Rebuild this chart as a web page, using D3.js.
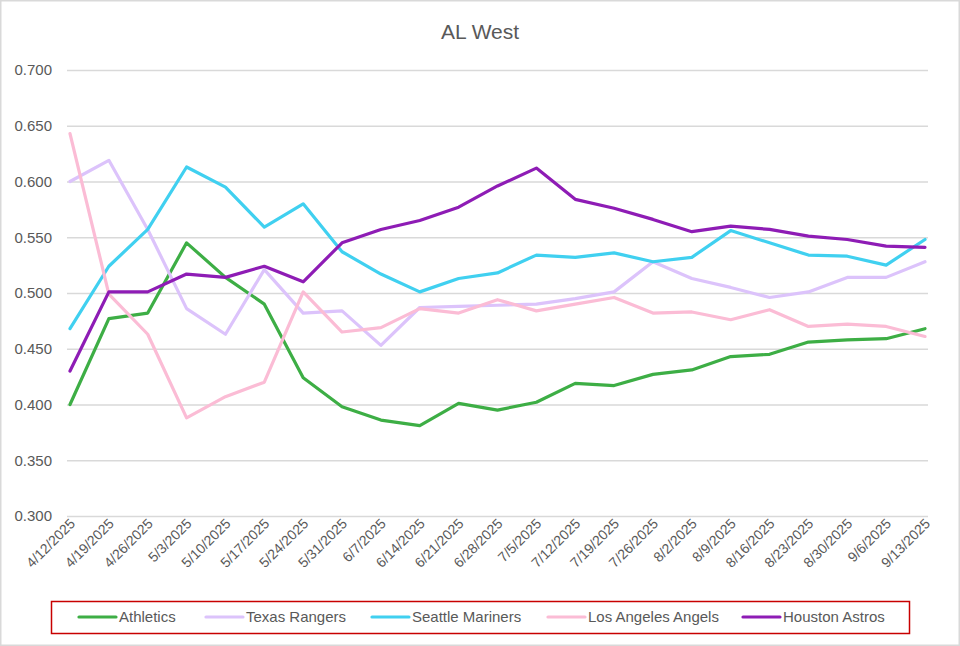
<!DOCTYPE html>
<html>
<head>
<meta charset="utf-8">
<script src="https://cdn.jsdelivr.net/npm/d3@7"></script>
<style>
	body { margin: 0; background: #fff; }
	svg { display: block; }
	.title { font-family: "Liberation Sans Narrow", "Liberation Sans", sans-serif; font-size: 21px; fill: #595959; }
	.tick text { font-family: "Liberation Sans", Arial, sans-serif; fill: #595959; }
	.legend text { font-family: "Liberation Sans Narrow", "Liberation Sans", sans-serif; font-size: 15px; fill: #595959; }
</style>
</head>
<body>
<div id="chart"></div>
<script>
// AL West winning percentage by week

const dates = ["4/12/2025", "4/19/2025", "4/26/2025", "5/3/2025", "5/10/2025", "5/17/2025",
	"5/24/2025", "5/31/2025", "6/7/2025", "6/14/2025", "6/21/2025", "6/28/2025", "7/5/2025",
	"7/12/2025", "7/19/2025", "7/26/2025", "8/2/2025", "8/9/2025", "8/16/2025", "8/23/2025",
	"8/30/2025", "9/6/2025", "9/13/2025"];

const teams = ["Athletics", "Texas Rangers", "Seattle Mariners", "Los Angeles Angels", "Houston Astros"];

const athletics = [0.400, 0.477, 0.482, 0.545, 0.514, 0.490, 0.424, 0.398, 0.386, 0.381, 0.401, 0.395,
	0.402, 0.419, 0.417, 0.427, 0.431, 0.443, 0.445, 0.456, 0.458, 0.459, 0.468];
const rangers = [0.600, 0.619, 0.557, 0.486, 0.463, 0.521, 0.482, 0.484, 0.453, 0.487, 0.488, 0.489,
	0.490, 0.495, 0.501, 0.528, 0.513, 0.505, 0.496, 0.501, 0.514, 0.514, 0.528];
const mariners = [0.468, 0.524, 0.557, 0.613, 0.595, 0.559, 0.580, 0.537, 0.517, 0.501, 0.513, 0.518,
	0.534, 0.532, 0.536, 0.528, 0.532, 0.556, 0.545, 0.534, 0.533, 0.525, 0.548];
const angels = [0.643, 0.499, 0.463, 0.388, 0.407, 0.420, 0.501, 0.465, 0.469, 0.486, 0.482, 0.494,
	0.484, 0.490, 0.496, 0.482, 0.483, 0.476, 0.485, 0.470, 0.472, 0.470, 0.461];
const astros = [0.430, 0.501, 0.501, 0.517, 0.514, 0.524, 0.510, 0.545, 0.557, 0.565, 0.577, 0.596,
	0.612, 0.584, 0.576, 0.566, 0.555, 0.560, 0.557, 0.551, 0.548, 0.542, 0.541];

const yTicks = [0.300, 0.350, 0.400, 0.450, 0.500, 0.550, 0.600, 0.650, 0.700];
const colors = ["#3DAE45", "#DCC3FB", "#40D0F0", "#FBBCD5", "#8E1CB5"];

const width = 960, height = 646;
const margin = { top: 70, right: 35, bottom: 130, left: 70 };

const series = teams.map((name, i) => ({
	name: name,
	color: colors[i],
	values: [athletics, rangers, mariners, angels, astros][i]
}));

function drawChart() {
	let svg = d3.select("#chart")
		.append("svg")
		.attr("width", width)
		.attr("height", height)
		.attr("viewBox", [0, 0, width, height]);

	svg.append("rect")
		.attr("x", 0.75).attr("y", 0.75)
		.attr("width", width - 1.5).attr("height", height - 1.5)
		.attr("fill", "#fff")
		.attr("stroke", "#d9d9d9")
		.attr("stroke-width", 1.5);

	svg.append("text")
		.attr("class", "title")
		.attr("x", width / 2)
		.attr("y", 39)
		.attr("text-anchor", "middle")
		.text("AL West");

	let x = d3.scalePoint()
		.domain(dates)
		.range([margin.left, width - margin.right]);

	let y = d3.scaleLinear()
		.domain([0.3, 0.7])
		.range([height - margin.bottom, margin.top]);

	// gridlines + y labels
	let yAxis = g => g
		.attr("transform", `translate(${margin.left - 3},0)`)
		.call(d3.axisLeft(y).tickValues(yTicks).tickFormat(d3.format(".3f")).tickSize(0).tickPadding(15))
		.call(g => g.select(".domain").remove())
		.call(g => g.selectAll(".tick text").attr("font-size", 15))
		.call(g => g.selectAll(".tick line").clone()
			.attr("x2", width - margin.right - margin.left + 6)
			.attr("stroke", "#d9d9d9")
			.attr("stroke-width", 1.5));

	let xAxis = g => g
		.attr("transform", `translate(0,${height - margin.bottom})`)
		.call(d3.axisBottom(x).tickSize(0).tickPadding(0))
		.call(g => g.select(".domain").remove())
		.call(g => g.selectAll(".tick text")
			.attr("font-size", 14)
			.attr("text-anchor", "end")
			.attr("dy", "0.35em")
			.attr("transform", "translate(2,5) rotate(-45)"));

	svg.append("g").call(yAxis);
	svg.append("g").call(xAxis);

	let line = d3.line()
		.x((d, i) => x(dates[i]))
		.y(d => y(d));

	svg.append("g")
		.selectAll("path")
		.data(series)
		.join("path")
		.attr("fill", "none")
		.attr("stroke", d => d.color)
		.attr("stroke-width", 3.2)
		.attr("stroke-linejoin", "round")
		.attr("stroke-linecap", "round")
		.attr("d", d => line(d.values));

	// legend
	let legend = svg.append("g").attr("class", "legend");
	legend.append("rect")
		.attr("x", 51.5).attr("y", 601.5)
		.attr("width", 858).attr("height", 32)
		.attr("fill", "none")
		.attr("stroke", "#C80000")
		.attr("stroke-width", 1.5);

	const legendX = [79, 206, 372, 548, 743];
	let items = legend.selectAll("g.item")
		.data(series)
		.join("g")
		.attr("class", "item")
		.attr("transform", (d, i) => `translate(${legendX[i]},617)`);
	items.append("line")
		.attr("x1", 0).attr("x2", 37)
		.attr("stroke", d => d.color)
		.attr("stroke-width", 3.2)
		.attr("stroke-linecap", "round");
	items.append("text")
		.attr("x", 40)
		.attr("dy", "0.35em")
		.text(d => d.name);
}

drawChart();
</script>
</body>
</html>
